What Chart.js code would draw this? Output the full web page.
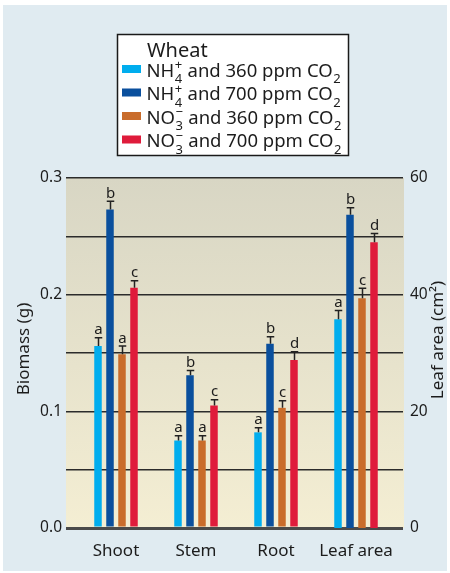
<!DOCTYPE html>
<html>
<head>
<meta charset="utf-8">
<script src="https://cdn.jsdelivr.net/npm/chart.js@4/dist/chart.umd.min.js"></script>
<style>
  html, body { margin: 0; padding: 0; background: #ffffff; }
  #wrap { width: 450px; height: 573px; position: relative; }
</style>
</head>
<body>
<div id="wrap"><canvas id="c" width="450" height="573"></canvas></div>
<script>
// ---------------- DATA ----------------
const categories = ['Shoot', 'Stem', 'Root', 'Leaf area'];
const seriesNames = [
  'NH₄⁺ and 360 ppm CO₂',
  'NH₄⁺ and 700 ppm CO₂',
  'NO₃⁻ and 360 ppm CO₂',
  'NO₃⁻ and 700 ppm CO₂'
];
const legendTitle = 'Wheat';
const biomassTitle = 'Biomass (g)';
const leafTitle = 'Leaf area (cm²)';

// Biomass (g) for Shoot, Stem, Root
const biomassNH4_360 = [0.156, 0.075, 0.082];
const biomassNH4_700 = [0.273, 0.131, 0.158];
const biomassNO3_360 = [0.149, 0.075, 0.103];
const biomassNO3_700 = [0.206, 0.105, 0.144];
// Standard errors (g)
const errNH4_360 = [0.007, 0.004, 0.004];
const errNH4_700 = [0.007, 0.004, 0.006];
const errNO3_360 = [0.007, 0.004, 0.006];
const errNO3_700 = [0.006, 0.005, 0.007];
// Significance letters
const lettersNH4_360 = ['a', 'a', 'a'];
const lettersNH4_700 = ['b', 'b', 'b'];
const lettersNO3_360 = ['a', 'a', 'c'];
const lettersNO3_700 = ['c', 'c', 'd'];

// Leaf area (cm²), one per series
const leafArea = [35.8, 53.7, 39.4, 49.0];
const leafErr = [1.5, 1.2, 1.7, 1.5];
const leafLetters = ['a', 'b', 'c', 'd'];

// Tick labels
const biomassTicks = [0.0, 0.1, 0.2, 0.3];
const leafTicks = [0, 20, 40, 60];

const colors = ['#00adee', '#0a4f9d', '#c96c2b', '#df1b3b'];

// ---------------- BUILD ----------------
const biomassSeries = [biomassNH4_360, biomassNH4_700, biomassNO3_360, biomassNO3_700];
const biomassErrs = [errNH4_360, errNH4_700, errNO3_360, errNO3_700];
const biomassLetters = [lettersNH4_360, lettersNH4_700, lettersNO3_360, lettersNO3_700];

const datasets = [];
biomassSeries.forEach((vals, s) => {
  datasets.push({
    label: seriesNames[s],
    data: vals.map((v, i) => ({ x: i, y: v })),
    err: biomassErrs[s],
    letters: biomassLetters[s],
    backgroundColor: colors[s],
    yAxisID: 'y'
  });
});
leafArea.forEach((v, s) => {
  datasets.push({
    label: seriesNames[s] + ' (leaf area)',
    data: [{ x: 3, y: v }],
    err: [leafErr[s]],
    letters: [leafLetters[s]],
    backgroundColor: colors[s],
    yAxisID: 'y1'
  });
});

const FONT = "'Noto Sans', 'Open Sans', sans-serif";
const TEXT = '#1c1c1c';

// background + plot gradient
const bgPlugin = {
  id: 'bg',
  beforeDraw(chart) {
    const { ctx, chartArea: a } = chart;
    ctx.save();
    ctx.fillStyle = '#ffffff';
    ctx.fillRect(0, 0, chart.width, chart.height);
    ctx.fillStyle = '#e0ebf1';
    ctx.fillRect(3, 5, 444, 566);
    const g = ctx.createLinearGradient(0, a.top, 0, a.bottom);
    g.addColorStop(0, '#d8d6c4');
    g.addColorStop(1, '#f4eed3');
    ctx.fillStyle = g;
    ctx.fillRect(a.left, a.top, a.right - a.left + 1, a.bottom - a.top);
    ctx.restore();
  }
};

// error bars + letters
const errPlugin = {
  id: 'errbars',
  afterDatasetsDraw(chart) {
    const { ctx } = chart;
    ctx.save();
    chart.data.datasets.forEach((ds, di) => {
      const meta = chart.getDatasetMeta(di);
      const yScale = chart.scales[ds.yAxisID];
      meta.data.forEach((bar, i) => {
        const v = ds.data[i].y;
        const top = yScale.getPixelForValue(v + ds.err[i]);
        const x = Math.round(bar.x) + 0.5;
        const half = bar.width / 2;
        ctx.strokeStyle = '#222';
        ctx.lineWidth = 1.5;
        ctx.beginPath();
        ctx.moveTo(x, bar.y);
        ctx.lineTo(x, top);
        ctx.moveTo(x - half, top);
        ctx.lineTo(x + half, top);
        ctx.stroke();
        ctx.fillStyle = TEXT;
        ctx.font = '15px ' + FONT;
        ctx.textAlign = 'center';
        ctx.textBaseline = 'alphabetic';
        ctx.fillText(ds.letters[i], x, top - 3.5);
      });
    });
    ctx.restore();
  }
};

// axis titles
const titlePlugin = {
  id: 'titles',
  afterDraw(chart) {
    const { ctx } = chart;
    ctx.save();
    ctx.fillStyle = TEXT;
    ctx.font = '17px ' + FONT;
    ctx.textAlign = 'center';
    ctx.textBaseline = 'middle';
    ctx.translate(24, 349);
    ctx.rotate(-Math.PI / 2);
    ctx.fillText(biomassTitle, 0, 0);
    ctx.restore();
    ctx.save();
    ctx.fillStyle = TEXT;
    ctx.font = '17px ' + FONT;
    ctx.textAlign = 'center';
    ctx.textBaseline = 'middle';
    ctx.translate(438, 340);
    ctx.rotate(-Math.PI / 2);
    ctx.fillText(leafTitle, 0, 0);
    ctx.restore();
  }
};

// custom legend with sub/superscripts
const SUBS = { '₀':'0','₁':'1','₂':'2','₃':'3','₄':'4','₅':'5','₆':'6','₇':'7','₈':'8','₉':'9' };
const SUPS = { '⁺':'+','⁻':'−','²':'2','³':'3' };
function drawRich(ctx, str, x, y, size) {
  const small = Math.round(size * 0.68);
  let i = 0;
  let buf = '';
  const flush = () => {
    if (buf) {
      ctx.font = size + 'px ' + FONT;
      ctx.fillText(buf, x, y);
      x += ctx.measureText(buf).width;
      buf = '';
    }
  };
  while (i < str.length) {
    const ch = str[i];
    if (SUBS[ch] || SUPS[ch]) {
      flush();
      let sub = '', sup = '';
      while (i < str.length && (SUBS[str[i]] || SUPS[str[i]])) {
        if (SUBS[str[i]]) sub += SUBS[str[i]]; else sup += SUPS[str[i]];
        i++;
      }
      ctx.font = small + 'px ' + FONT;
      let w = 0;
      if (sub) { ctx.fillText(sub, x + 0.5, y + size * 0.36); w = Math.max(w, ctx.measureText(sub).width); }
      if (sup) { ctx.fillText(sup, x + 0.5, y - size * 0.38); w = Math.max(w, ctx.measureText(sup).width); }
      x += w + 1;
      continue;
    }
    buf += ch;
    i++;
  }
  flush();
}
const legendPlugin = {
  id: 'richLegend',
  afterDraw(chart) {
    const { ctx } = chart;
    ctx.save();
    ctx.fillStyle = '#ffffff';
    ctx.fillRect(117.5, 34.5, 231, 121);
    ctx.strokeStyle = '#1a1a1a';
    ctx.lineWidth = 1.5;
    ctx.strokeRect(117.5, 34.5, 231, 121);
    ctx.fillStyle = TEXT;
    ctx.textAlign = 'left';
    ctx.textBaseline = 'alphabetic';
    ctx.font = '20px ' + FONT;
    ctx.fillText(legendTitle, 147, 57);
    seriesNames.forEach((name, s) => {
      const cy = 69 + 23.5 * s;
      ctx.fillStyle = colors[s];
      ctx.fillRect(122, cy - 4, 19, 8);
      ctx.fillStyle = TEXT;
      drawRich(ctx, name, 146.5, cy + 7.5, 18.5);
    });
    ctx.restore();
  }
};

new Chart(document.getElementById('c'), {
  type: 'bar',
  data: { datasets },
  options: {
    responsive: false,
    animation: false,
    devicePixelRatio: 1,
    layout: { padding: { top: 178, left: 0, right: 0, bottom: 0 } },
    datasets: {
      bar: { skipNull: true, categoryPercentage: 0.6, barPercentage: 0.625 }
    },
    plugins: {
      legend: { display: false },
      tooltip: { enabled: false }
    },
    scales: {
      x: {
        type: 'linear',
        offset: false,
        bounds: 'data',
        min: -0.625,
        max: 3.5875,
        afterBuildTicks(scale) { scale.ticks = categories.map((c, i) => ({ value: i })); },
        afterFit(scale) { scale.height = 45; },
        grid: { display: false, offset: false },
        border: { display: false },
        ticks: {
          callback: (v) => categories[v],
          autoSkip: false, maxRotation: 0,
          color: TEXT, padding: 5,
          font: { family: FONT, size: 17 }
        }
      },
      y: {
        position: 'left',
        min: 0, max: 0.3,
        afterBuildTicks(scale) {
          const t = [];
          for (let k = 0; k <= 6; k++) t.push({ value: k * 0.05 });
          scale.ticks = t;
        },
        afterFit(scale) { scale.width = 66; },
        border: { display: false },
        grid: {
          drawTicks: false,
          color: (c) => (c.tick && c.tick.value === 0 ? '#4a4a4a' : '#2b2b2b'),
          lineWidth: (c) => (c.tick && c.tick.value === 0 ? 3 : 1.4)
        },
        ticks: {
          callback: (v) => {
            const m = biomassTicks.find((t) => Math.abs(t - v) < 1e-9);
            return m === undefined ? '' : m.toFixed(1);
          },
          color: TEXT, padding: 4,
          font: { family: FONT, size: 15.5 }
        }
      },
      y1: {
        position: 'right',
        min: 0, max: 60,
        afterBuildTicks(scale) { scale.ticks = leafTicks.map((v) => ({ value: v })); },
        afterFit(scale) { scale.width = 47; },
        border: { display: false },
        grid: { display: false, drawTicks: false },
        ticks: {
          color: TEXT, padding: 7,
          font: { family: FONT, size: 15.5 }
        }
      }
    }
  },
  plugins: [bgPlugin, errPlugin, titlePlugin, legendPlugin]
});
</script>
</body>
</html>
